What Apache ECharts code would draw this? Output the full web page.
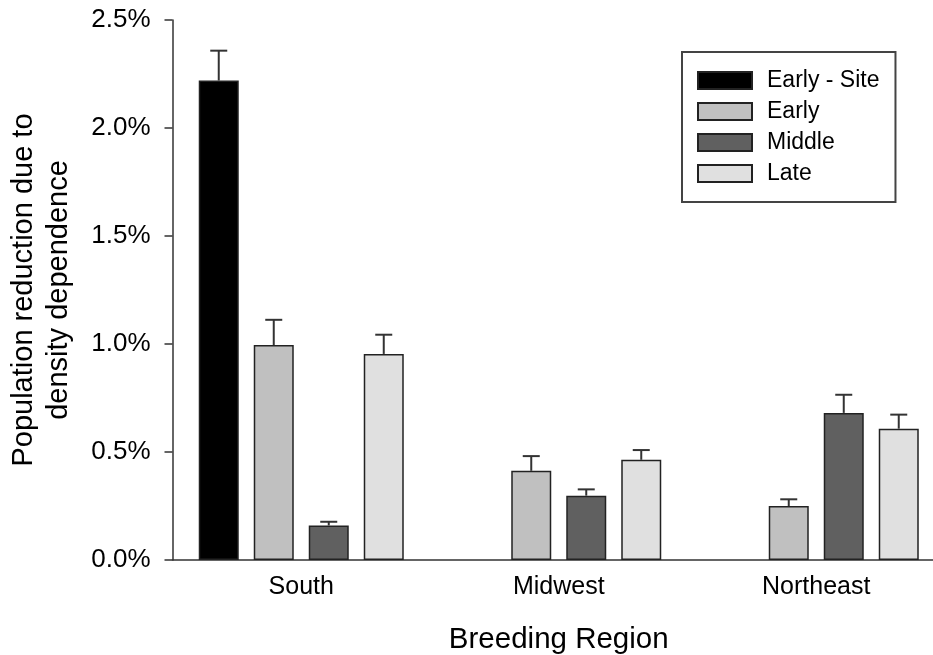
<!DOCTYPE html>
<html>
<head>
<meta charset="utf-8">
<script src="https://cdn.jsdelivr.net/npm/echarts@6/dist/echarts.min.js"></script>
<style>html,body{margin:0;padding:0;background:#fff}#c{width:933px;height:655px}</style>
</head>
<body>
<div id="c"></div>
<script>
const categories = ['South', 'Midwest', 'Northeast'];
const seriesNames = ['Early - Site', 'Early', 'Middle', 'Late'];
const earlySite = [2.22, null, null];
const early = [0.995, 0.413, 0.250];
const middle = [0.160, 0.298, 0.681];
const late = [0.954, 0.464, 0.608];
const earlySiteErr = [2.358, null, null];
const earlyErr = [1.112, 0.481, 0.281];
const middleErr = [0.177, 0.327, 0.765];
const lateErr = [1.043, 0.509, 0.673];
const yTicks = [0, 0.5, 1.0, 1.5, 2.0, 2.5];

const values = [earlySite, early, middle, late];
const errs = [earlySiteErr, earlyErr, middleErr, lateErr];
const colors = ['#000000', '#c0c0c0', '#606060', '#e0e0e0'];
const BAR_W = 40, BAR_GAP = 15;
const FONT = 'Liberation Sans, Arial, sans-serif';

const chart = echarts.init(document.getElementById('c'), null, {renderer: 'canvas'});

const barSeries = seriesNames.map((name, i) => ({
  name: name,
  type: 'bar',
  data: values[i].map(v => v === null ? '-' : v),
  barWidth: BAR_W,
  barGap: (BAR_GAP / BAR_W * 100) + '%',
  itemStyle: {color: colors[i], borderColor: '#222', borderWidth: 1.5},
  emphasis: {disabled: true},
  z: 2
}));

const errSeries = seriesNames.map((name, i) => ({
  type: 'custom',
  data: categories.map((c, k) => [k, values[i][k], errs[i][k]]).filter(d => d[1] !== null),
  renderItem: function (params, api) {
    const k = api.value(0);
    const base = api.coord([k, api.value(1)]);
    const top = api.coord([k, api.value(2)]);
    const x = base[0] + (i - 1.5) * (BAR_W + BAR_GAP);
    const capHalf = 8.5;
    const style = {stroke: '#333', lineWidth: 2};
    return {
      type: 'group',
      children: [
        {type: 'line', shape: {x1: x, y1: base[1], x2: x, y2: top[1]}, style: style},
        {type: 'line', shape: {x1: x - capHalf, y1: top[1], x2: x + capHalf, y2: top[1]}, style: style}
      ]
    };
  },
  z: 1,
  silent: true
}));

chart.setOption({
  animation: false,
  backgroundColor: '#fff',
  textStyle: {fontFamily: FONT},
  grid: {left: 172.5, top: 20, bottom: 95, right: -12, containLabel: false, outerBoundsMode: 'none'},
  legend: {
    data: seriesNames.map(n => ({name: n, icon: 'rect'})),
    orient: 'vertical',
    left: 682,
    top: 52,
    itemWidth: 54,
    itemHeight: 17,
    itemGap: 8,
    padding: [17, 16, 17, 15],
    borderColor: '#444',
    borderWidth: 2,
    textStyle: {fontFamily: FONT, fontSize: 23, color: '#000', lineHeight: 23, padding: [0, 0, 0, 10]},
    selectedMode: false
  },
  xAxis: {
    type: 'category',
    data: categories,
    axisLine: {lineStyle: {color: '#333', width: 1.5}},
    axisTick: {show: false},
    axisLabel: {fontFamily: FONT, fontSize: 25, color: '#000', margin: 15},
    name: 'Breeding Region',
    nameLocation: 'middle',
    nameGap: 65,
    nameTextStyle: {fontFamily: FONT, fontSize: 29.5, color: '#000'}
  },
  yAxis: {
    type: 'value',
    min: 0,
    max: 2.5,
    interval: 0.5,
    splitLine: {show: false},
    axisLine: {show: true, lineStyle: {color: '#333', width: 1.5}},
    axisTick: {show: true, length: 8, lineStyle: {color: '#333', width: 1.5}},
    axisLabel: {
      fontFamily: FONT, fontSize: 26, color: '#000', margin: 22,
      formatter: v => yTicks.includes(v) ? v.toFixed(1) + '%' : ''
    },
    name: 'Population reduction due to\ndensity dependence',
    nameLocation: 'middle',
    nameGap: 96,
    nameTextStyle: {fontFamily: FONT, fontSize: 29, color: '#000', lineHeight: 35}
  },
  series: barSeries.concat(errSeries)
});
</script>
</body>
</html>
